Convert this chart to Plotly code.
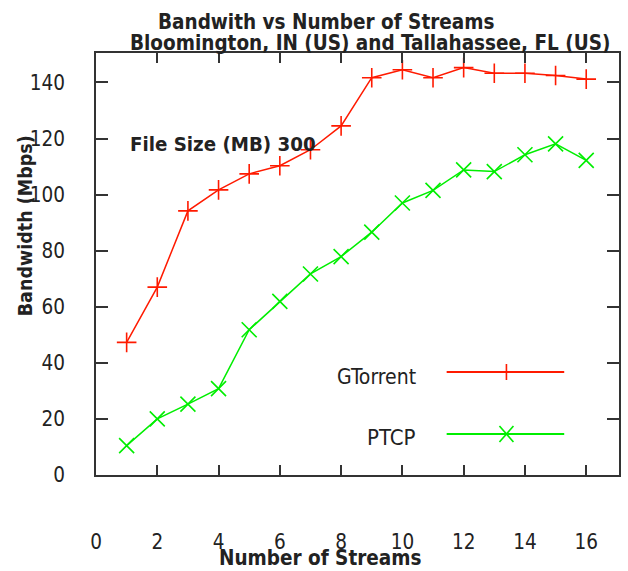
import plotly.graph_objects as go

# ---- data ----
streams = [1, 2, 3, 4, 5, 6, 7, 8, 9, 10, 11, 12, 13, 14, 15, 16]
gtorrent = [47.3, 67.0, 94.2, 101.7, 107.4, 110.3, 116.0, 124.5,
            141.7, 144.5, 141.7, 145.3, 143.3, 143.3, 142.5, 141.2]
ptcp = [10.5, 20.0, 25.3, 30.8, 51.8, 61.9, 71.7, 77.9,
        86.6, 97.0, 101.5, 108.8, 108.2, 114.2, 118.1, 112.2]
x_ticks = [0, 2, 4, 6, 8, 10, 12, 14, 16]
y_ticks = [0, 20, 40, 60, 80, 100, 120, 140]
series_names = ["GTorrent", "PTCP"]

RED = "#ff1a00"
GREEN = "#00ee00"
FONT = "Liberation Sans Narrow, DejaVu Sans Condensed, Arial Narrow, sans-serif"
INK = "#222222"
FRAME = "#333333"

fig = go.Figure()
fig.add_trace(go.Scatter(
    x=streams, y=gtorrent, mode="lines+markers", name=series_names[0],
    line=dict(color=RED, width=1.5),
    marker=dict(symbol="cross-thin", size=14, color=RED,
                line=dict(color=RED, width=1.6)),
    showlegend=False))
fig.add_trace(go.Scatter(
    x=streams, y=ptcp, mode="lines+markers", name=series_names[1],
    line=dict(color=GREEN, width=1.5),
    marker=dict(symbol="x-thin", size=15, color=GREEN,
                line=dict(color=GREEN, width=1.6)),
    showlegend=False))

L, R, T, B = 96, 7, 53, 96
W, H = 628, 571
PW, PH = W - L - R, H - T - B


def px(xp):
    return (xp - L) / PW


def py(yp):
    return (H - B - yp) / PH


annotations = [
    dict(text="<b>Bandwith vs Number of Streams</b>", x=px(327), y=py(22),
         font=dict(size=20.5, family=FONT, color=INK)),
    dict(text="<b>Bloomington, IN (US) and Tallahassee, FL (US)</b>", x=px(371), y=py(43),
         font=dict(size=20.5, family=FONT, color=INK)),
    dict(text="<b>File Size (MB) 300</b>", x=px(128), y=py(144), xanchor="left",
         font=dict(size=20.3, family=FONT, color=INK)),
    dict(text="<b>Bandwidth (Mbps)</b>", x=px(26), y=py(226), textangle=-90,
         font=dict(size=19.5, family=FONT, color=INK)),
    dict(text="<b>Number of Streams</b>", x=px(321), y=py(558),
         font=dict(size=20.5, family=FONT, color=INK)),
    dict(text=series_names[0], x=px(419), y=py(377), xanchor="right",
         font=dict(size=21, family=FONT, color=INK)),
    dict(text=series_names[1], x=px(419), y=py(437), xanchor="right",
         font=dict(size=22, family=FONT, color=INK)),
]
for a in annotations:
    a.update(xref="paper", yref="paper", showarrow=False)
    a.setdefault("xanchor", "center")
    a.setdefault("yanchor", "middle")

shapes = []
# legend sample lines
for yp, col in [(372, RED), (434, GREEN)]:
    shapes.append(dict(type="line", xref="paper", yref="paper",
                       x0=px(448), x1=px(566), y0=py(yp), y1=py(yp),
                       line=dict(color=col, width=2)))
# legend sample symbols (pixel-sized around an anchor)
shapes.append(dict(type="line", xref="paper", yref="paper",
                   xsizemode="pixel", ysizemode="pixel",
                   xanchor=px(508), yanchor=py(372),
                   x0=0, x1=0, y0=-8, y1=8, line=dict(color=RED, width=1.6)))
for sx in (-1, 1):
    shapes.append(dict(type="line", xref="paper", yref="paper",
                       xsizemode="pixel", ysizemode="pixel",
                       xanchor=px(508), yanchor=py(434),
                       x0=-7 * sx, x1=7 * sx, y0=-8, y1=8,
                       line=dict(color=GREEN, width=1.6)))

fig.update_layout(
    width=W, height=H,
    margin=dict(l=L, r=R, t=T, b=B, pad=0),
    paper_bgcolor="white", plot_bgcolor="white",
    annotations=annotations, shapes=shapes,
    showlegend=False,
    xaxis=dict(range=[0, 17.07], tickvals=x_ticks, ticks="inside", ticklen=10,
               tickwidth=1.6, tickcolor=FRAME, showline=True, linecolor=FRAME,
               linewidth=2, mirror="ticks", showgrid=False, zeroline=False,
               ticklabelstandoff=47,
               tickfont=dict(size=20.5, family=FONT, color=INK)),
    yaxis=dict(range=[0, 150.5], tickvals=y_ticks, ticks="inside", ticklen=12,
               tickwidth=1.6, tickcolor=FRAME, showline=True, linecolor=FRAME,
               linewidth=2, mirror="ticks", showgrid=False, zeroline=False,
               ticklabelstandoff=25,
               tickfont=dict(size=20.5, family=FONT, color=INK)),
)

fig.write_html("out.html",
               config={"displayModeBar": False},
               post_script="document.body.style.margin='0';"
                           "document.body.style.overflow='hidden';")
